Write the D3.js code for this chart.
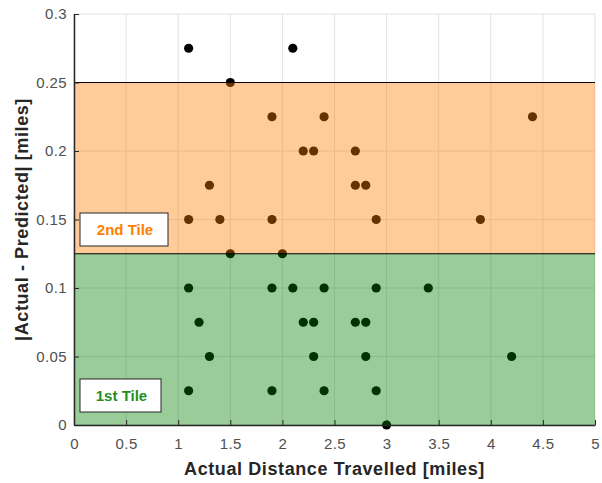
<!DOCTYPE html>
<html>
<head>
<meta charset="utf-8">
<style>
body { margin: 0; background: #fff; }
text { font-family: "Liberation Sans", Arial, sans-serif; }
</style>
</head>
<body>
<svg id="chart" width="602" height="483"></svg>
<script src="https://d3js.org/d3.v7.min.js"></script>
<script>

// actual distance travelled vs |actual - predicted|
var distActual = [1.1, 2.1,
  1.5,
  1.9, 2.4, 4.4,
  2.2, 2.3, 2.7,
  1.3, 2.7, 2.8,
  1.1, 1.4, 1.9, 2.9, 3.9,
  1.5, 2.0,
  1.1, 1.9, 2.1, 2.4, 2.9, 3.4,
  1.2, 2.2, 2.3, 2.7, 2.8,
  1.3, 2.3, 2.8, 4.2,
  1.1, 1.9, 2.4, 2.9,
  3.0];
var absError = [0.275, 0.275,
  0.25,
  0.225, 0.225, 0.225,
  0.2, 0.2, 0.2,
  0.175, 0.175, 0.175,
  0.15, 0.15, 0.15, 0.15, 0.15,
  0.125, 0.125,
  0.1, 0.1, 0.1, 0.1, 0.1, 0.1,
  0.075, 0.075, 0.075, 0.075, 0.075,
  0.05, 0.05, 0.05, 0.05,
  0.025, 0.025, 0.025, 0.025,
  0];

var xTicks = [0, 0.5, 1, 1.5, 2, 2.5, 3, 3.5, 4, 4.5, 5];
var yTicks = [0, 0.05, 0.1, 0.15, 0.2, 0.25, 0.3];

var tileNames = ["1st Tile", "2nd Tile"];
var tileBounds = [[0, 0.125], [0.125, 0.25]];
var tileColors = ["#008000", "#ff8000"];
var tileText = ["#1f8f1f", "#ff8000"];

var svg = d3.select("#chart");
var pl = 74, pr = 595, pt = 14, pb = 425;

var x = d3.scaleLinear().domain([0, 5]).range([pl, pr]);
var y = d3.scaleLinear().domain([0, 0.3]).range([pb, pt]);

// grid
svg.append("g").selectAll("line").data(xTicks).enter().append("line")
  .attr("x1", d => x(d)).attr("x2", d => x(d))
  .attr("y1", pt).attr("y2", pb)
  .attr("stroke", "#e3e3e3").attr("stroke-width", 1);
svg.append("g").selectAll("line").data(yTicks).enter().append("line")
  .attr("x1", pl).attr("x2", pr)
  .attr("y1", d => y(d)).attr("y2", d => y(d))
  .attr("stroke", "#e3e3e3").attr("stroke-width", 1);

// points (under the see-through tiles)
svg.append("g").selectAll("circle").data(distActual).enter().append("circle")
  .attr("cx", d => x(d))
  .attr("cy", (d, i) => y(absError[i]))
  .attr("r", 4.6)
  .attr("fill", "#000");

// tiles
svg.append("g").selectAll("rect").data(tileBounds).enter().append("rect")
  .attr("x", x(0))
  .attr("width", x(5) - x(0))
  .attr("y", d => y(d[1]))
  .attr("height", d => y(d[0]) - y(d[1]))
  .attr("fill", (d, i) => tileColors[i])
  .attr("fill-opacity", 0.4);

svg.append("g").selectAll("line").data(tileBounds).enter().append("line")
  .attr("x1", pl).attr("x2", pr)
  .attr("y1", d => y(d[1])).attr("y2", d => y(d[1]))
  .attr("stroke", "#000").attr("stroke-width", 1.2);

// axes
var xAxis = d3.axisBottom(x).tickValues(xTicks).tickSizeInner(-5).tickSizeOuter(0).tickPadding(13)
  .tickFormat(d3.format("~g"));
var gx = svg.append("g").attr("transform", "translate(0," + pb + ")").call(xAxis);
var yAxis = d3.axisLeft(y).tickValues(yTicks).tickSizeInner(-5).tickSizeOuter(0).tickPadding(7)
  .tickFormat(d3.format("~g"));
var gy = svg.append("g").attr("transform", "translate(" + pl + ",0)").call(yAxis);
[gx, gy].forEach(function(g) {
  g.select(".domain").attr("stroke", "#262626").attr("stroke-width", 1.5);
  g.selectAll(".tick line").attr("stroke", "#262626");
  g.selectAll(".tick text").attr("fill", "#505050")
    .style("font-size", "15px").style("letter-spacing", "0.4px")
    .attr("font-family", "Liberation Sans, Arial, sans-serif");
});

svg.append("text")
  .attr("x", (pl + pr) / 2).attr("y", 475)
  .attr("text-anchor", "middle")
  .style("font-size", "18px").style("font-weight", "bold").style("letter-spacing", "0.6px")
  .attr("fill", "#262626")
  .text("Actual Distance Travelled [miles]");

svg.append("text")
  .attr("transform", "translate(28," + (pt + pb) / 2 + ") rotate(-90)")
  .attr("text-anchor", "middle")
  .style("font-size", "18px").style("font-weight", "bold").style("letter-spacing", "0.6px")
  .attr("fill", "#262626")
  .text("|Actual - Predicted| [miles]");

// tile labels
var boxes = [[80, 379, 81, 33], [80, 213, 88, 33]];
boxes.forEach(function(b, i) {
  svg.append("rect")
    .attr("x", b[0]).attr("y", b[1]).attr("width", b[2]).attr("height", b[3])
    .attr("fill", "#fff").attr("stroke", "#262626").attr("stroke-width", 1);
  svg.append("text")
    .attr("x", b[0] + b[2] / 2 + 1).attr("y", b[1] + b[3] / 2 + 5.5)
    .attr("text-anchor", "middle")
    .style("font-size", "15px").style("font-weight", "bold")
    .attr("fill", tileText[i])
    .text(tileNames[i]);
});
</script>
</body>
</html>
